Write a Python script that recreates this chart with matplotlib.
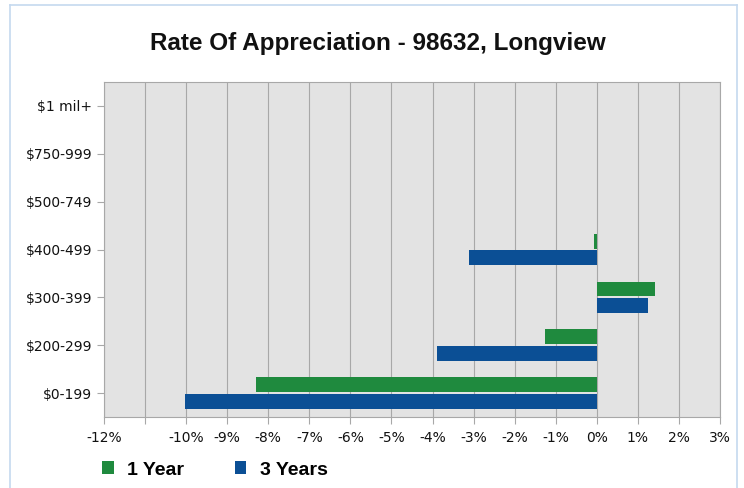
import numpy as np
import matplotlib.pyplot as plt
from matplotlib.patches import Patch
from matplotlib.lines import Line2D

# Data
categories = ['$0-199', '$200-299', '$300-399', '$400-499', '$500-749', '$750-999', '$1 mil+']
one_year = [-8.29, -1.25, 1.42, -0.08, 0, 0, 0]
three_years = [-10.02, -3.88, 1.24, -3.12, 0, 0, 0]
x_ticks = [-12, -11, -10, -9, -8, -7, -6, -5, -4, -3, -2, -1, 0, 1, 2, 3]
x_labels = ['-12%', '', '-10%', '-9%', '-8%', '-7%', '-6%', '-5%', '-4%', '-3%',
            '-2%', '-1%', '0%', '1%', '2%', '3%']

green = '#1f8a3e'
blue = '#0b4f95'

plt.rcParams['font.family'] = ['Liberation Sans', 'DejaVu Sans']

fig = plt.figure(figsize=(7.44, 4.88), dpi=100)
ax = fig.add_axes([104 / 744, 1 - 417 / 488, 616 / 744, 335 / 488])
ax.set_facecolor('#e3e3e3')

y = np.arange(len(categories))
h = 0.31
ax.barh(y + 0.175, one_year, height=h, color=green, linewidth=0, zorder=3)
ax.barh(y - 0.175, three_years, height=h, color=blue, linewidth=0, zorder=3)

ax.set_xlim(-12, 3)
ax.set_ylim(-0.5, 6.5)
ax.set_xticks(x_ticks)
ax.set_xticklabels(x_labels, fontsize=10, family='DejaVu Sans')
ax.set_yticks(y)
ax.set_yticklabels(categories, fontsize=10, family='DejaVu Sans')
ax.grid(axis='x', color='#a8a8a8', linewidth=0.8, zorder=1)
ax.tick_params(axis='both', colors='#a8a8a8', labelcolor='#111111', length=5, width=0.8)
ax.tick_params(axis='x', pad=5)
ax.tick_params(axis='y', pad=3.6)
for s in ax.spines.values():
    s.set_color('#a8a8a8')
    s.set_linewidth(0.8)

fig.text(0.508, 1 - 50 / 488, 'Rate Of Appreciation - 98632, Longview',
         ha='center', va='baseline', fontsize=17.5, fontweight='bold', color='#111111')

handles = [Patch(facecolor=green, edgecolor='none'), Patch(facecolor=blue, edgecolor='none')]
fig.legend(handles, ['1 Year', '3 Years'], loc='center left', bbox_to_anchor=(102 / 744, 1 - 470 / 488),
           ncol=2, frameon=False, prop={'weight': 'bold', 'size': 14},
           borderpad=0, borderaxespad=0,
           handlelength=0.6, handleheight=0.6, handletextpad=0.7, columnspacing=2.6)

# light blue frame around the chart
frame_col = '#c5d9ef'
fig.add_artist(Line2D([10 / 744, 10 / 744], [0, 1 - 5 / 488], color=frame_col, lw=1.2))
fig.add_artist(Line2D([10 / 744, 737 / 744], [1 - 5 / 488, 1 - 5 / 488], color=frame_col, lw=1.2))
fig.add_artist(Line2D([737 / 744, 737 / 744], [0, 1 - 5 / 488], color=frame_col, lw=1.2))

fig.savefig('out.png', dpi=100)
